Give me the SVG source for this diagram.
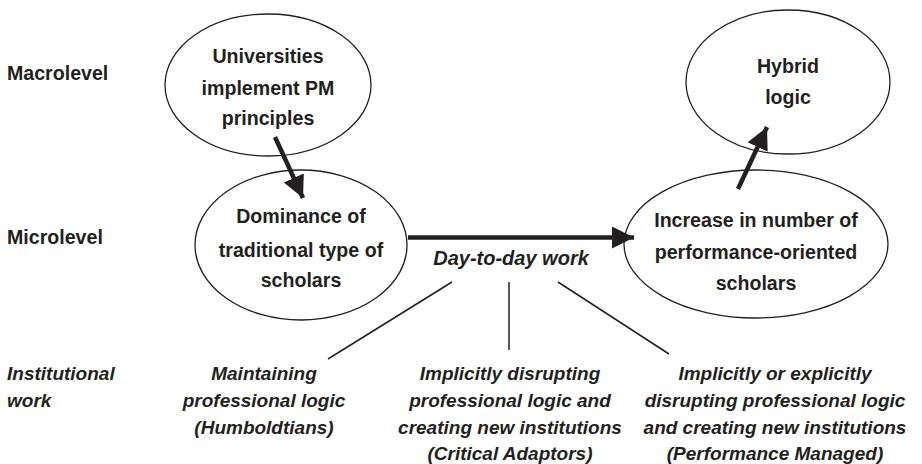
<svg xmlns="http://www.w3.org/2000/svg" width="922" height="464" viewBox="0 0 922 464">
<defs>
<style>
.b{font-family:"Liberation Sans",Arial,sans-serif;font-weight:bold;font-size:19.6px;fill:#231f20}
.bi{font-family:"Liberation Sans",Arial,sans-serif;font-weight:bold;font-style:italic;font-size:19px;fill:#231f20}
.c{text-anchor:middle}
.node{fill:#fff;stroke:#231f20;stroke-width:1.3}
.arr{stroke:#231f20;stroke-width:4.5;fill:none;marker-end:url(#ah)}
.ln{stroke:#231f20;stroke-width:1.5;fill:none}
</style>
<marker id="ah" markerUnits="userSpaceOnUse" markerWidth="24" markerHeight="24" viewBox="0 0 24 24" refX="22" refY="11" orient="auto">
<path d="M0,0 L22,11 L0,22 z" fill="#231f20"/>
</marker>
</defs>
<rect width="922" height="464" fill="#fff"/>
<g id="labels">
<text class="b" x="7" y="80">Macrolevel</text>
<text class="b" x="7" y="244">Microlevel</text>
<text class="bi" x="7" y="380">Institutional</text>
<text class="bi" x="7" y="407">work</text>
</g>
<g id="n-universities">
<ellipse class="node" cx="268" cy="85" rx="103" ry="71"/>
<text class="b c" x="268" y="63">Universities</text>
<text class="b c" x="268" y="95">implement PM</text>
<text class="b c" x="268" y="125">principles</text>
</g>
<g id="n-dominance">
<ellipse class="node" cx="301" cy="245" rx="106" ry="75"/>
<text class="b c" x="301" y="223">Dominance of</text>
<text class="b c" x="301" y="257">traditional type of</text>
<text class="b c" x="301" y="287">scholars</text>
</g>
<g id="n-increase">
<ellipse class="node" cx="756" cy="244" rx="132" ry="74"/>
<text class="b c" x="756" y="227">Increase in number of</text>
<text class="b c" x="756" y="259">performance-oriented</text>
<text class="b c" x="756" y="290">scholars</text>
</g>
<g id="n-hybrid">
<ellipse class="node" cx="788" cy="82" rx="102" ry="72"/>
<text class="b c" x="788" y="73">Hybrid</text>
<text class="b c" x="788" y="104">logic</text>
</g>
<g id="n-daytoday">
<text class="bi c" x="511" y="265" style="font-size:20px">Day-to-day work</text>
</g>
<g id="n-humboldtians">
<text class="bi c" x="264" y="380">Maintaining</text>
<text class="bi c" x="264" y="407">professional logic</text>
<text class="bi c" x="264" y="434">(Humboldtians)</text>
</g>
<g id="n-critical">
<text class="bi c" x="510" y="380">Implicitly disrupting</text>
<text class="bi c" x="510" y="407">professional logic and</text>
<text class="bi c" x="510" y="434">creating new institutions</text>
<text class="bi c" x="510" y="460">(Critical Adaptors)</text>
</g>
<g id="n-performance">
<text class="bi c" x="775" y="380">Implicitly or explicitly</text>
<text class="bi c" x="775" y="407">disrupting professional logic</text>
<text class="bi c" x="775" y="434">and creating new institutions</text>
<text class="bi c" x="775" y="460">(Performance Managed)</text>
</g>
<g id="connectors">
<line class="arr" x1="275" y1="137" x2="303" y2="198"/>
<line class="arr" x1="408" y1="237.5" x2="634" y2="237.5"/>
<line class="arr" x1="738" y1="189" x2="767" y2="127"/>
<line class="ln" x1="452" y1="282" x2="328" y2="359"/>
<line class="ln" x1="509" y1="282" x2="509" y2="350"/>
<line class="ln" x1="558" y1="282" x2="669" y2="354"/>
</g>
</svg>
